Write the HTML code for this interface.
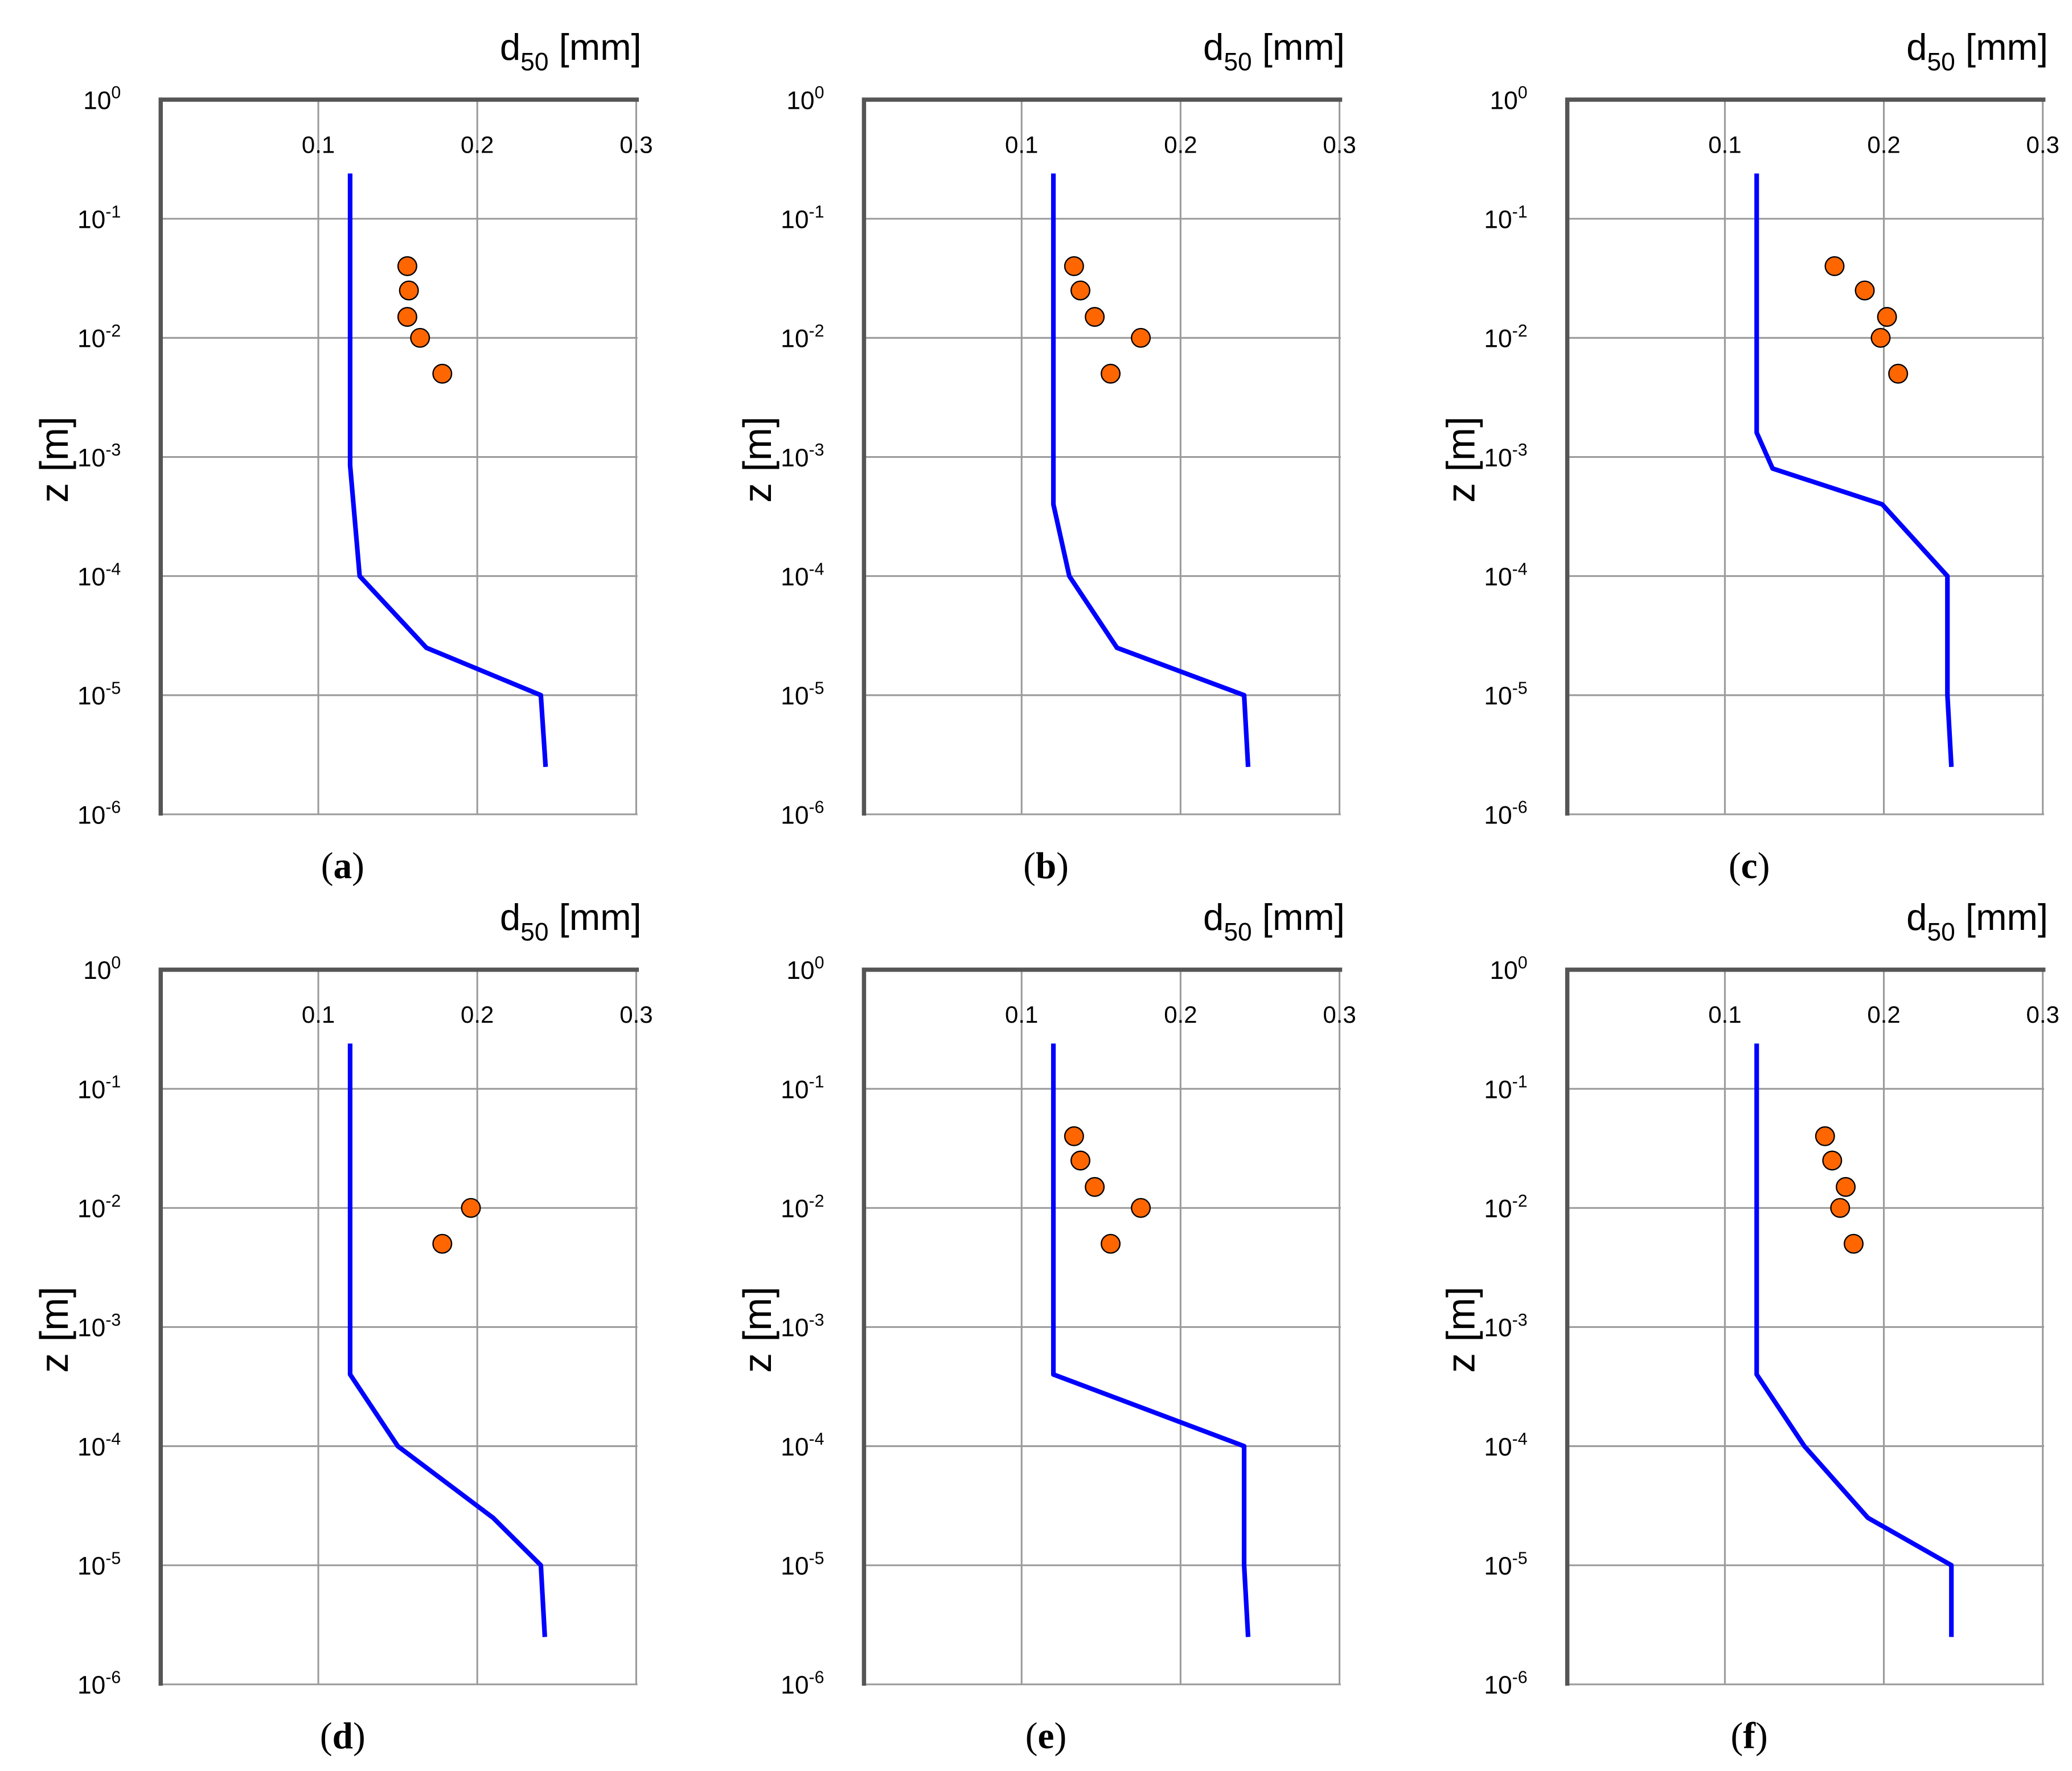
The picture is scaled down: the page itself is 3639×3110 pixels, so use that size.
<!DOCTYPE html>
<html><head><meta charset="utf-8"><style>
html,body{margin:0;padding:0;background:#fff;}
svg{display:block;}
</style></head><body>
<svg id="fig" width="3639" height="3110" viewBox="0 0 1560 1333.2" xmlns="http://www.w3.org/2000/svg"></svg>
<script>
// Data per panel: line profile (d50 mm, z m) and measured points
const panelLabels = ['a','b','c','d','e','f'];
const lineD = [
  [0.12,0.12,0.126,0.168,0.24,0.243],
  [0.12,0.12,0.13,0.16,0.24,0.2425],
  [0.12,0.12,0.13,0.199,0.24,0.24,0.2425],
  [0.12,0.12,0.15,0.21,0.24,0.2425],
  [0.12,0.12,0.24,0.24,0.2425],
  [0.12,0.12,0.15,0.19,0.2425,0.2425]
];
const lineZ = [
  [0.24,8.5e-4,1e-4,2.5e-5,1e-5,2.5e-6],
  [0.24,4e-4,1e-4,2.5e-5,1e-5,2.5e-6],
  [0.24,1.6e-3,8e-4,4e-4,1e-4,1e-5,2.5e-6],
  [0.24,4e-4,1e-4,2.5e-5,1e-5,2.5e-6],
  [0.24,4e-4,1e-4,1e-5,2.5e-6],
  [0.24,4e-4,1e-4,2.5e-5,1e-5,2.5e-6]
];
const ptD = [
  [0.156,0.157,0.156,0.164,0.178],
  [0.133,0.137,0.146,0.175,0.156],
  [0.169,0.188,0.202,0.198,0.209],
  [0.196,0.178],
  [0.133,0.137,0.146,0.175,0.156],
  [0.163,0.1675,0.176,0.1725,0.181]
];
const ptZ = [
  [0.04,0.025,0.015,0.01,0.005],
  [0.04,0.025,0.015,0.01,0.005],
  [0.04,0.025,0.015,0.01,0.005],
  [0.01,0.005],
  [0.04,0.025,0.015,0.01,0.005],
  [0.04,0.025,0.015,0.01,0.005]
];
const xTicks = [0.1,0.2,0.3];
const xTickLabels = ['0.1','0.2','0.3'];
const yExps = [0,-1,-2,-3,-4,-5,-6];

const NS='http://www.w3.org/2000/svg';
const svg=document.getElementById('fig');
function mk(tag,attrs,parent){const e=document.createElementNS(NS,tag);for(const k in attrs)e.setAttribute(k,attrs[k]);parent.appendChild(e);return e;}
const SANS='font-family:"Liberation Sans",sans-serif';
const SERIF='font-family:"Liberation Serif",serif';

const W=359, H=538;
panelLabels.forEach((lab,i)=>{
  const ox=121+(i%3)*529.5, oy=75+Math.floor(i/3)*655;
  const sx=d=>ox-1+d/0.3*W;
  const sy=z=>oy+(-Math.log10(z))/6*H;
  const g=mk('g',{},svg);
  
  
  yExps.forEach(e=>{
    const y=sy(Math.pow(10,e));
    const l=mk('line',{x1:ox,x2:ox+W,y1:y,y2:y,stroke:'#9a9a9a','stroke-width':1.3},g);
    
    
    const t=mk('text',{x:ox-30,y:y+7,'text-anchor':'end','font-size':19,fill:'#000',style:SANS},g);
    
    
    t.textContent='10';
    const s=mk('tspan',{dy:-8,'font-size':13},t);s.textContent=String(e);
  });
  xTicks.forEach((d,k)=>{
    const x=sx(d);
    const l=mk('line',{x1:x,x2:x,y1:oy,y2:oy+H,stroke:'#9a9a9a','stroke-width':1.3},g);
    
    
    const t=mk('text',{x:x,y:oy+40,'text-anchor':'middle','font-size':18,fill:'#000',style:SANS},g);
    
    
    t.textContent=xTickLabels[k];
  });
  const ax=mk('path',{d:`M${ox},${oy+H+1}V${oy}H${ox+W+1}`,fill:'none',stroke:'#555','stroke-width':3.2},g);
  
  
  const pts=lineD[i].map((d,k)=>sx(d).toFixed(2)+','+sy(lineZ[i][k]).toFixed(2)).join(' ');
  const pl=mk('polyline',{points:pts,fill:'none',stroke:'#0000ff','stroke-width':3.5,'stroke-linejoin':'round'},g);
  
  
  ptD[i].forEach((d,k)=>{
    const c=mk('circle',{cx:sx(d),cy:sy(ptZ[i][k]),r:7,fill:'#ff6600',stroke:'#000','stroke-width':1},g);
    
    
  });
  const tt=mk('text',{x:ox+W+3,y:oy-30,'text-anchor':'end','font-size':28,fill:'#000',style:SANS},g);
  
  
  tt.textContent='d';
  const sub=mk('tspan',{dy:8,'font-size':19},tt);sub.textContent='50';
  const rest=mk('tspan',{dy:-8},tt);rest.textContent=' [mm]';
  const yt=mk('text',{x:0,y:0,'text-anchor':'middle','font-size':30,fill:'#000',style:SANS,transform:`translate(${ox-70},${oy+271}) rotate(-90)`},g);
  
  
  yt.textContent='z [m]';
  const cap=mk('text',{x:ox+137,y:oy+586,'text-anchor':'middle','font-size':28,fill:'#000',style:SERIF},g);
  
  
  cap.textContent='(';
  const b=mk('tspan',{'font-weight':'bold'},cap);b.textContent=lab;
  const c2=mk('tspan',{},cap);c2.textContent=')';
});
</script>
</body></html>
